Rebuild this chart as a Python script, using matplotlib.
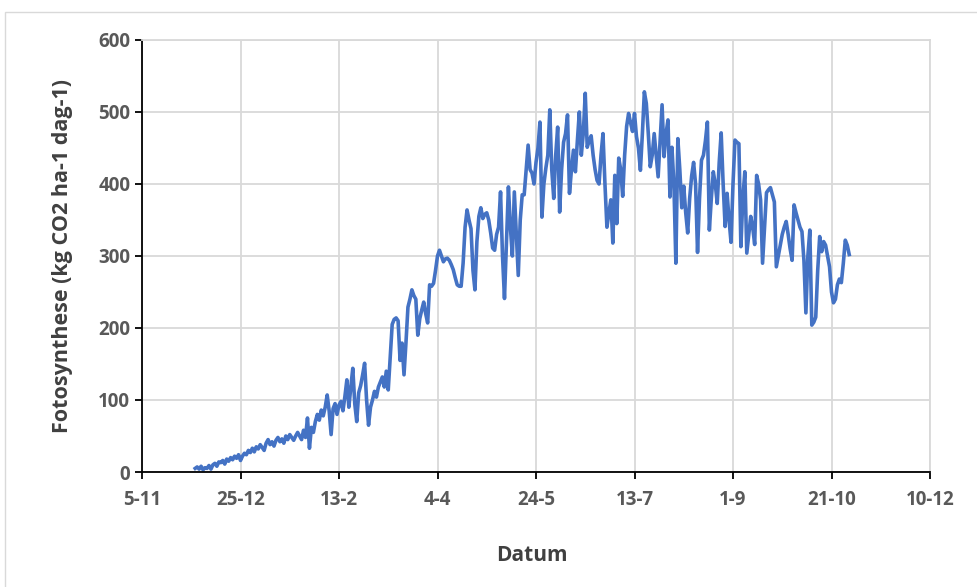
import pandas as pd
import matplotlib.pyplot as plt
from matplotlib.patches import Rectangle

plt.rcParams['font.family'] = 'Open Sans'
plt.rcParams['font.weight'] = 'bold'
plt.rcParams['axes.labelweight'] = 'bold'

# daily values, first day 2-12
start_date = '2018-12-02'
values = [
    5, 7, 4, 8, 3, 6, 5, 9, 4, 10, 12, 8, 14, 13, 16, 11, 18, 15, 20, 17, 22, 19, 24,
    16, 22, 26, 24, 30, 27, 33, 28, 35, 32,
    38, 34, 30, 40, 45, 38, 42, 36, 44, 48,
    42, 46, 40, 50, 45, 52, 48, 44, 50, 55,
    50, 45, 58, 48, 75, 33, 62, 55, 70, 80,
    72, 86, 78, 90, 107, 85, 52, 88, 95, 80,
    93, 98, 85, 105, 128, 90, 118, 144, 95, 70,
    110, 120, 135, 151, 100, 65, 90, 100, 112, 104,
    118, 125, 132, 118, 140, 114, 160, 205, 212, 214,
    210, 155, 179, 135, 180, 229, 240, 253, 245, 240,
    190, 213, 225, 236, 220, 207, 260, 258, 262, 280,
    300, 308, 300, 292, 296, 297, 294, 288, 281, 270,
    260, 258, 258, 290, 340, 364, 350, 338, 280, 253,
    320, 355, 367, 352, 358, 360, 350, 332, 311, 308,
    330, 340, 389, 300, 241, 320, 396, 340, 300, 389,
    330, 273, 350, 385, 385, 420, 454, 420, 415, 400,
    430, 450, 486, 354, 400, 422, 440, 503, 420, 380,
    440, 479, 361, 420, 458, 470, 496, 387, 420, 447,
    417, 460, 500, 440, 470, 526, 451, 460, 467, 440,
    420, 405, 400, 440, 470, 400, 340, 360, 378, 318,
    412, 345, 436, 420, 383, 440, 480, 498, 485, 473,
    498, 466, 450, 419, 470, 528, 512, 470, 424, 440,
    470, 440, 410, 460, 510, 438, 470, 489, 382, 451,
    400, 290, 463, 420, 367, 397, 360, 332, 380, 411,
    430, 400, 305, 380, 433, 440, 460, 486, 336, 380,
    417, 400, 373, 430, 471, 400, 341, 387, 350, 319,
    400, 461, 458, 456, 313, 380, 417, 304, 330, 355,
    340, 316, 412, 400, 378, 290, 340, 388, 392, 395,
    385, 375, 285, 300, 315, 330, 340, 348, 330, 310,
    294, 371, 360, 350, 340, 334, 294, 221, 300, 336,
    204, 208, 215, 280, 327, 306, 320, 315, 300, 285,
    250, 235, 240, 260, 268, 263, 290, 322, 315, 302,
]

tick_dates = ['2018-11-05', '2018-12-25', '2019-02-13', '2019-04-04', '2019-05-24',
              '2019-07-13', '2019-09-01', '2019-10-21', '2019-12-10']
tick_labels = ['5-11', '25-12', '13-2', '4-4', '24-5', '13-7', '1-9', '21-10', '10-12']
y_ticks = [0, 100, 200, 300, 400, 500, 600]

dates = pd.date_range(start_date, periods=len(values), freq='D')
tick_dates = pd.to_datetime(tick_dates)

fig = plt.figure(figsize=(9.77, 5.87), dpi=100)
ax = fig.add_axes([142/977, 1-472/587, 788/977, 432/587])

ax.plot(dates, values, color='#4472C4', linewidth=2.6)

ax.set_xlim(tick_dates[0], tick_dates[-1])
ax.set_ylim(0, 600)
ax.set_xticks(tick_dates)
ax.set_xticklabels(tick_labels)
ax.set_yticks(y_ticks)

ax.grid(color='#d9d9d9', linewidth=1.3)
ax.set_axisbelow(True)
for s in ['top', 'right']:
    ax.spines[s].set_color('#d9d9d9')
    ax.spines[s].set_linewidth(1.3)
for s in ['left', 'bottom']:
    ax.spines[s].set_color('black')
    ax.spines[s].set_linewidth(1.3)

ax.tick_params(axis='both', direction='out', length=5, width=1.3, color='black',
               labelcolor='#595959', labelsize=13.5)
ax.tick_params(axis='x', pad=8)

ax.set_xlabel('Datum', fontsize=15, color='#404040')
ax.set_ylabel('Fotosynthese (kg CO2 ha-1 dag-1)', fontsize=15.5, color='#404040')
ax.xaxis.set_label_coords(0.495, -0.168)
ax.yaxis.set_label_coords(-0.088, 0.5)

# outer chart border
fig.patches.append(Rectangle((5/977, -0.01), 1.0, 1.01 - 12/587, transform=fig.transFigure,
                             fill=False, edgecolor='#d9d9d9', linewidth=1))

fig.savefig('out.png', dpi=100)
